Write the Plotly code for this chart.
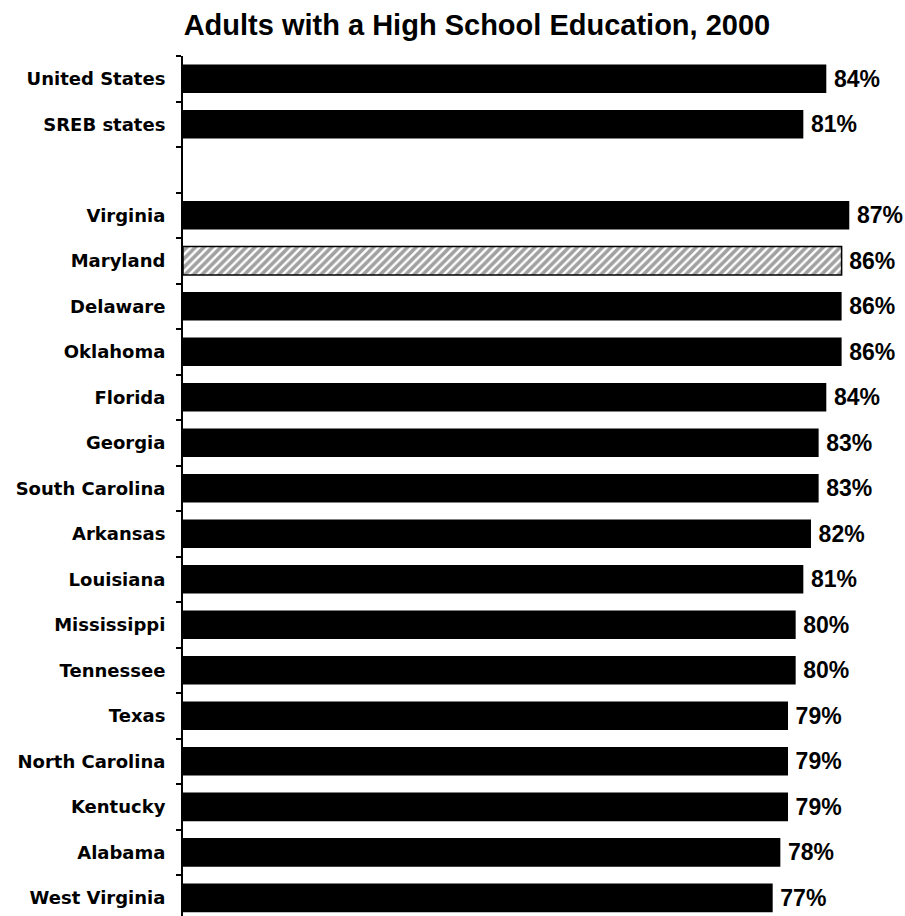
import plotly.graph_objects as go

categories = ["United States", "SREB states", " ", "Virginia", "Maryland", "Delaware",
              "Oklahoma", "Florida", "Georgia", "South Carolina", "Arkansas", "Louisiana",
              "Mississippi", "Tennessee", "Texas", "North Carolina", "Kentucky",
              "Alabama", "West Virginia"]
values = [84, 81, None, 87, 86, 86, 86, 84, 83, 83, 82, 81, 80, 80, 79, 79, 79, 78, 77]
labels = ["" if v is None else f"\u2009{v}%" for v in values]
highlight = "Maryland"

fills = ["white" if c == highlight else "black" for c in categories]
shapes = ["/" if c == highlight else "" for c in categories]
line_w = [1.5 if c == highlight else 0 for c in categories]

fig = go.Figure(go.Bar(
    y=categories, x=values, orientation="h",
    text=labels, textposition="outside",
    textfont=dict(family="Liberation Sans, Arial, sans-serif", size=23,
                  color="black", weight="bold"),
    cliponaxis=False,
    width=0.63,
    marker=dict(color=fills, line=dict(color="black", width=line_w),
                pattern=dict(shape=shapes, fgcolor="black", bgcolor="white",
                             size=6, solidity=0.6)),
))

fig.update_layout(
    width=905, height=916,
    margin=dict(l=183, r=45, t=56, b=0, pad=0),
    paper_bgcolor="white", plot_bgcolor="white",
    showlegend=False,
    title=dict(text="<b>Adults with a High School Education, 2000</b>",
               x=0.527, xanchor="center", xref="container", y=0.973, yanchor="middle",
               font=dict(family="Liberation Sans, Arial, sans-serif",
                         size=29, color="black")),
    xaxis=dict(range=[0, 88.4], visible=False, showgrid=False, zeroline=False,
               automargin=False),
    yaxis=dict(categoryorder="array", categoryarray=categories,
               range=[18.4, -0.5], showgrid=False, zeroline=False, automargin=False,
               showline=True, linecolor="black", linewidth=2,
               ticks="outside", tickson="boundaries", ticklen=5,
               tickcolor="black", tickwidth=2, ticklabelstandoff=12,
               tickfont=dict(family="DejaVu Sans, sans-serif", size=18,
                             color="black", weight="bold")),
)

fig.write_html(
    "out.html",
    config={"displayModeBar": False},
    post_script="document.body.style.margin='0';"
                "document.documentElement.style.overflow='hidden';"
                "document.body.style.overflow='hidden';",
)
